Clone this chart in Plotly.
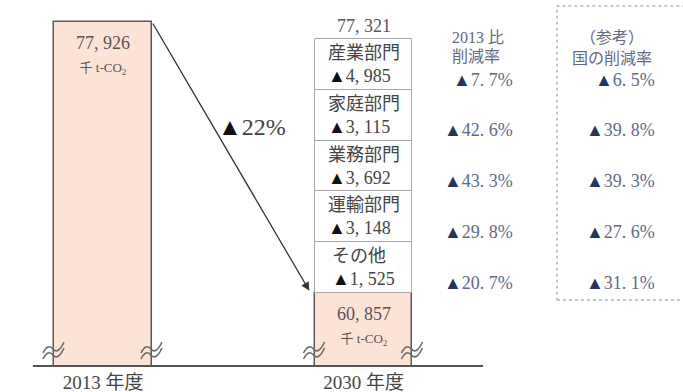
import plotly.graph_objects as go

# ---------------- data ----------------
years = ["2013 年度", "2030 年度"]
totals = [77926, 60857]
sum_label = 77321
sectors = ["産業部門", "家庭部門", "業務部門", "運輸部門", "その他"]
reductions = [4985, 3115, 3692, 3148, 1525]
rate_2013 = [7.7, 42.6, 43.3, 29.8, 20.7]
rate_nation = [6.5, 39.8, 39.3, 27.6, 31.1]
total_cut = 22
unit = "千 t-CO<sub>2</sub>"
head_2013 = ["2013 比", "削減率"]
head_nation = ["（参考）", "国の削減率"]

# ---------------- layout helpers ----------------
W, H = 683, 392
FONT = "Liberation Serif, 'Noto Sans CJK JP', serif"
BAR_W = 0.376
BLUE = "#5f6a88"
def px(xp):  # pixel x -> paper
    return xp / W
def py(yp):  # pixel y -> paper
    return 1 - yp / H

def fmt(v):
    return f"{v:,}".replace(",", ", ")

def fpct(v):
    return f"{v}".replace(".", ". ") + "%"

fig = go.Figure()

# main bars (broken axis)
fig.add_trace(go.Bar(
    x=[0, 1], y=totals, width=BAR_W,
    marker=dict(color="#fde3d5", line=dict(color="#5a5a5a", width=1.5)),
    hoverinfo="skip", yaxis="y", showlegend=False))

# sector reduction boxes stacked above the 2030 bar (schematic equal cells)
n = len(sectors)
fig.add_trace(go.Bar(
    x=[1] * n, y=[1] * n, base=[n - 1 - i for i in range(n)], width=BAR_W,
    marker=dict(color="white", line=dict(color="#a8a8a8", width=1)),
    hoverinfo="skip", yaxis="y2", showlegend=False))

ann = []
# bar value labels
for i, v in enumerate(totals):
    ann.append(dict(x=i, y=v, xref="x", yref="y", yanchor="top", yshift=-9,
                    text=fmt(v) + "<br><span style='font-size:13px'>" + unit + "</span>",
                    showarrow=False, font=dict(size=18, color="#555", family=FONT)))
ann.append(dict(x=1, y=n, xref="x", yref="y2", yanchor="bottom", yshift=1,
                text=fmt(sum_label), showarrow=False,
                font=dict(size=18, color="#555", family=FONT)))

TRI = "<span style='color:#26335c'>▲</span>"
for k in range(n):
    yc = n - 1 - k + 0.5
    ann.append(dict(x=1, y=yc, xref="x", yref="y2",
                    text=sectors[k] + "<br><span style='color:#111'>▲</span>" + fmt(reductions[k]),
                    showarrow=False, align="left",
                    font=dict(size=18, color="#444", family=FONT)))
    ann.append(dict(x=(515 - 103) / 260.5, y=yc - 0.3, xref="x", yref="y2",
                    xanchor="right",
                    text=TRI + fpct(rate_2013[k]), showarrow=False,
                    font=dict(size=18, color=BLUE, family=FONT)))
    ann.append(dict(x=(657 - 103) / 260.5, y=yc - 0.3, xref="x", yref="y2",
                    xanchor="right",
                    text=TRI + fpct(rate_nation[k]), showarrow=False,
                    font=dict(size=18, color=BLUE, family=FONT)))

# column headers (one annotation per line)
for j, t in enumerate(head_2013):
    ann.append(dict(x=px(450), y=py(27 + 19 * j), xref="paper", yref="paper",
                    xanchor="left", text=t, showarrow=False,
                    font=dict(size=16, color=BLUE, family=FONT)))
for j, t in enumerate(head_nation):
    ann.append(dict(x=px(612), y=py(27 + 21 * j), xref="paper", yref="paper",
                    xanchor="center", text=t, showarrow=False,
                    font=dict(size=16, color=BLUE, family=FONT)))

# arrow from 2013 to 2030
ann.append(dict(x=1 - BAR_W / 2 - 0.02, y=totals[1] + 150, xref="x", yref="y",
                ax=BAR_W / 2, ay=totals[0], axref="x", ayref="y",
                showarrow=True, arrowhead=2, arrowsize=1.3, arrowwidth=1.3,
                arrowcolor="#333", text=""))
ann.append(dict(x=px(252), y=py(112), xref="paper", yref="paper",
                text="<span style='color:#111'>▲</span>" + f"{total_cut}%",
                showarrow=False, font=dict(size=24, color="#444", family=FONT)))

shapes = [
    # baseline
    dict(type="line", xref="x", yref="paper", x0=-0.269, x1=1.459,
         y0=py(366), y1=py(366), line=dict(color="#555", width=2)),
    # dotted reference box
    dict(type="rect", xref="paper", yref="paper", x0=px(557), x1=1.05,
         y0=py(300), y1=py(6), line=dict(color="#8090b0", width=1, dash="dot")),
]

# axis-break marks (two tilted wavy strokes at each bar edge)
WAVE = ("M -11 -4 Q -6 6 -1 0 T 10 7 "
        "M -11 -10 Q -6 0 -1 -6 T 10 1")
for xb in [-BAR_W / 2, BAR_W / 2, 1 - BAR_W / 2, 1 + BAR_W / 2]:
    shapes.append(dict(type="path", xref="x", yref="paper",
                       xsizemode="pixel", ysizemode="pixel",
                       xanchor=xb, yanchor=py(349), path=WAVE,
                       line=dict(color="#6a6a6a", width=1.6)))

fig.update_layout(
    width=W, height=H, margin=dict(l=0, r=0, t=0, b=0),
    plot_bgcolor="white", paper_bgcolor="white",
    barmode="overlay", bargap=0,
    font=dict(family=FONT),
    xaxis=dict(range=[-103 / 260.5, (W - 103) / 260.5], tickvals=[0, 1],
               ticktext=years, showgrid=False, zeroline=False, showline=False,
               ticks="", ticklabelstandoff=3,
               tickfont=dict(size=19, color="#444", family=FONT)),
    yaxis=dict(domain=[26 / H, 1], range=[56264, 79312], visible=False,
               showgrid=False, zeroline=False),
    yaxis2=dict(overlaying="y", range=[-1.437, 5.768], visible=False,
                showgrid=False, zeroline=False),
    annotations=ann, shapes=shapes,
)

fig.write_html("out.html")
